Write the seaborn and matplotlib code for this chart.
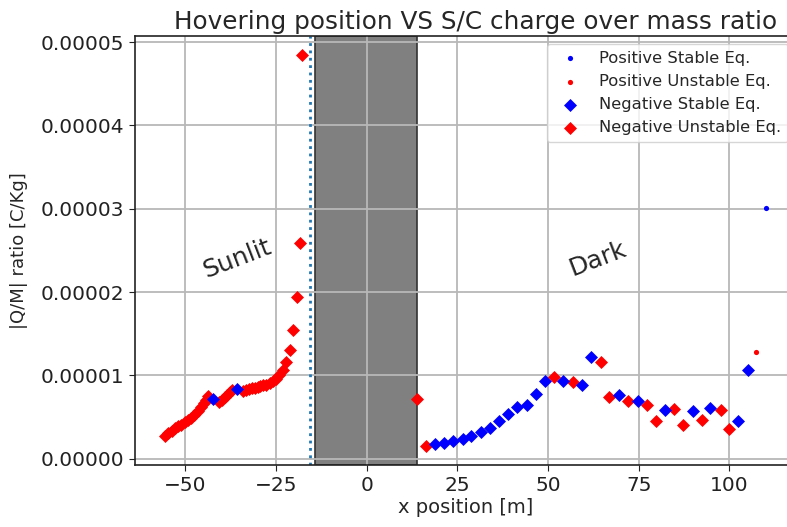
import numpy as np
import pandas as pd
import matplotlib
matplotlib.use("Agg")
import matplotlib.pyplot as plt
import seaborn as sns

# ---- data ----
neg_unstable_x = [-55.6, -54.7, -53.8, -52.9, -52.0, -51.1, -50.2, -49.3, -48.4, -47.5,
                  -46.6, -45.7, -44.8, -44.3, -43.9, -40.6, -39.9, -39.2, -38.5, -37.8,
                  -37.2, -34.1, -33.3, -32.5, -31.7, -30.9, -30.1, -29.3, -28.5, -27.7,
                  -26.8, -25.9, -25.0, -24.1, -23.2, -22.3, -21.2, -20.2, -19.3, -18.4,
                  -17.8,
                  13.8, 16.3, 51.7, 57.0, 64.5, 66.9, 72.1, 77.2, 79.8, 84.8, 87.3, 92.4,
                  97.6, 100.0]
neg_unstable_y = [0.28, 0.31, 0.34, 0.37, 0.39, 0.41, 0.44, 0.46, 0.49, 0.53,
                  0.57, 0.62, 0.67, 0.71, 0.75, 0.68, 0.71, 0.74, 0.77, 0.80,
                  0.83, 0.82, 0.83, 0.84, 0.85, 0.85, 0.86, 0.87, 0.88, 0.89,
                  0.91, 0.93, 0.96, 1.01, 1.07, 1.16, 1.31, 1.55, 1.94, 2.59,
                  4.84,
                  0.72, 0.16, 0.98, 0.92, 1.16, 0.74, 0.69, 0.65, 0.45, 0.60, 0.41, 0.46,
                  0.59, 0.36]
neg_stable_x = [-42.3, -35.7,
                18.8, 21.4, 23.9, 26.5, 28.9, 31.5, 34.0, 36.6, 39.0, 41.5, 44.1, 46.7,
                49.2, 54.2, 59.5, 62.0, 69.6, 74.7, 82.2, 89.9, 94.8, 102.5, 105.2]
neg_stable_y = [0.72, 0.84,
                0.18, 0.19, 0.21, 0.24, 0.27, 0.32, 0.37, 0.45, 0.54, 0.62, 0.64, 0.78,
                0.94, 0.93, 0.88, 1.22, 0.76, 0.69, 0.59, 0.57, 0.61, 0.45, 1.06]
pos_stable_x = [110.1]
pos_stable_y = [3.01]
pos_unstable_x = [107.5]
pos_unstable_y = [1.28]
scale = 1e-5

shadow_start, shadow_end = -14.2, 13.8
boundary_x = -15.6

# ---- style ----
sns.set_style("whitegrid", {
    "axes.edgecolor": "#222222",
    "grid.color": "#b8b8b8",
    "xtick.bottom": True,
    "ytick.left": True,
})
plt.rcParams["font.family"] = ["DejaVu Sans"]
plt.rcParams["grid.linewidth"] = 1.3
plt.rcParams["xtick.direction"] = "out"
plt.rcParams["ytick.direction"] = "out"
plt.rcParams["xtick.major.size"] = 4.5
plt.rcParams["ytick.major.size"] = 4.5
plt.rcParams["xtick.color"] = "#222222"
plt.rcParams["ytick.color"] = "#222222"

W, H = 787, 527
fig = plt.figure(figsize=(W / 100, H / 100), dpi=100)
# the reference is cropped on the right: the axes run past the figure edge
ax = fig.add_axes([135 / W, 62 / H, (796 - 135) / W, (465 - 36) / H])

ax.axvspan(shadow_start, shadow_end, facecolor="#808080", edgecolor="#333333",
           linewidth=1.2, zorder=1)
ax.axvline(boundary_x, color="#1f77b4", linestyle=":", linewidth=2, zorder=1.8)
ax.set_axisbelow("line")

def df(x, y):
    return pd.DataFrame({"x": x, "y": np.array(y) * scale})

sns.scatterplot(data=df(pos_stable_x, pos_stable_y), x="x", y="y", ax=ax,
                color="blue", marker="o", s=14, linewidth=0, zorder=3,
                label="Positive Stable Eq.")
sns.scatterplot(data=df(pos_unstable_x, pos_unstable_y), x="x", y="y", ax=ax,
                color="red", marker="o", s=14, linewidth=0, zorder=3,
                label="Positive Unstable Eq.")
sns.scatterplot(data=df(neg_stable_x, neg_stable_y), x="x", y="y", ax=ax,
                color="blue", marker="D", s=44, linewidth=0, zorder=3.2,
                label="Negative Stable Eq.")
sns.scatterplot(data=df(neg_unstable_x, neg_unstable_y), x="x", y="y", ax=ax,
                color="red", marker="D", s=44, linewidth=0, zorder=3.1,
                label="Negative Unstable Eq.")

ax.set_xlim(-63.9, 118.4)
ax.set_ylim(-0.074e-5, 5.074e-5)
ax.set_yticks(np.arange(0, 6) * 1e-5)
ax.yaxis.set_major_formatter(matplotlib.ticker.FormatStrFormatter("%.5f"))
ax.set_xticks([-50, -25, 0, 25, 50, 75, 100])
ax.tick_params(labelsize=14.5)

ax.set_xlabel("x position [m]", fontsize=14, labelpad=2)
ax.set_ylabel("|Q/M| ratio [C/Kg]", fontsize=13, labelpad=9)
ax.set_title("Hovering position VS S/C charge over mass ratio", fontsize=17.8,
             pad=5, x=0.515)

ax.text(-35.7, 2.4e-5, "Sunlit", fontsize=18, rotation=21, ha="center", va="center")
ax.text(63.8, 2.4e-5, "Dark", fontsize=18, rotation=21, ha="center", va="center")

leg = ax.legend(loc="upper right", fontsize=11.8, framealpha=0.8)

for sp in ax.spines.values():
    sp.set_linewidth(1.2)

fig.savefig("out.png", dpi=100)
